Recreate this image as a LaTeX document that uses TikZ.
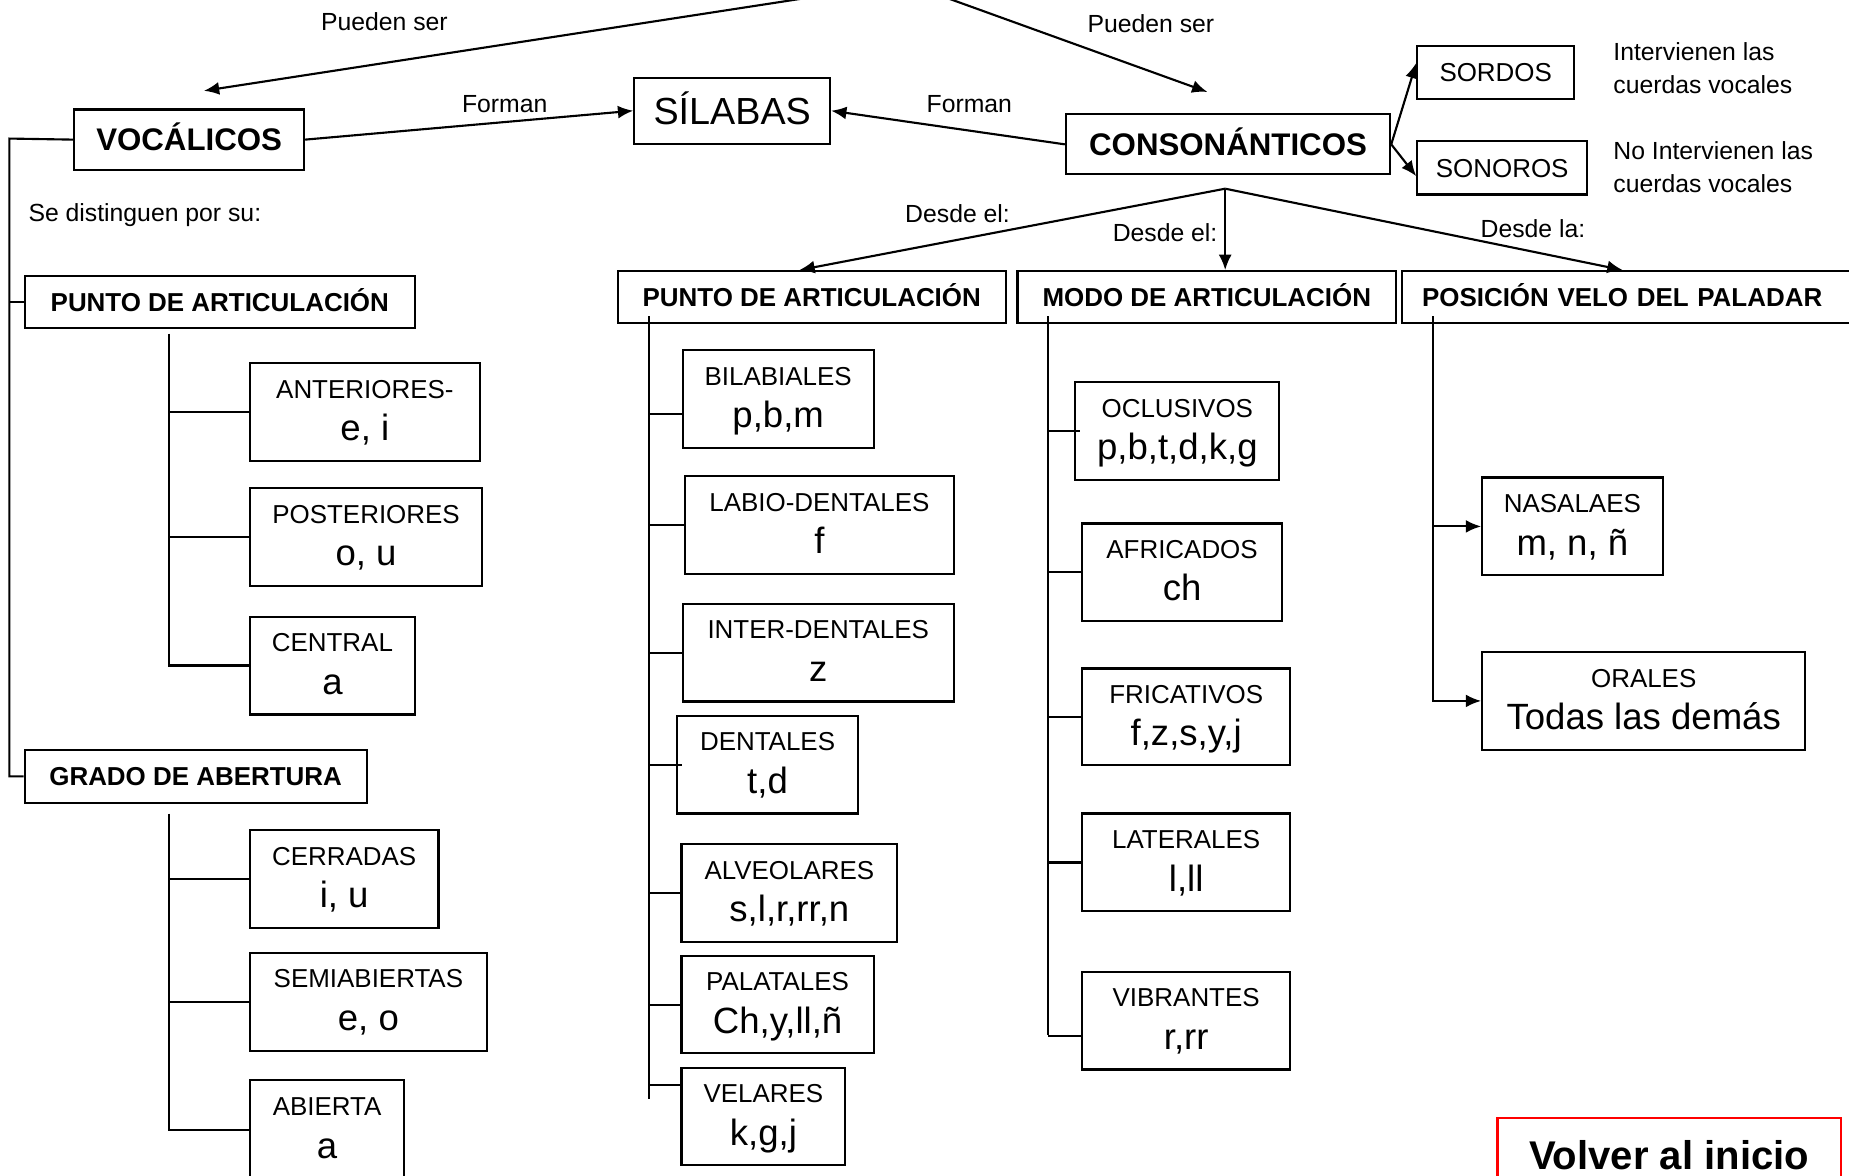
\documentclass[tikz,border=0pt]{standalone}
\usepackage{fontspec}
\setmainfont{Liberation Sans}
\usetikzlibrary{arrows.meta,calc}
\newcommand\twol[2]{{\fontsize{22}{26}\selectfont\rule{0pt}{19pt}#1}\\#2\rule[-6.5pt]{0pt}{6.5pt}}
\begin{document}
\begin{tikzpicture}[x=1pt,y=-1pt,
  hb/.style={draw, line width=1.8pt, inner sep=0pt, anchor=north west, align=center},
  hdr/.style={hb, minimum height=44pt, text height=15.8pt, text depth=0pt, font=\fontsize{22}{26}\selectfont\bfseries},
  vb/.style={hb, minimum height=83pt, font=\fontsize{31}{36}\selectfont},
  lbl/.style={inner sep=0pt, font=\fontsize{21}{28}\selectfont},
  ln/.style={line width=1.8pt},
  arr/.style={line width=1.8pt, -{Latex[length=13pt,width=11pt]}}]
\fill[white] (0,0) rectangle (1568,997);
\useasboundingbox (0,0) rectangle (1568,997);
\clip (0,0) rectangle (1568,997);

% main nodes
\node[hb, minimum width=195pt, minimum height=51pt, text height=19pt, text depth=0pt, font=\fontsize{26.5}{30}\selectfont\bfseries] (VOC) at (62,92) {VOCÁLICOS};
\node[hb, minimum width=166pt, minimum height=56pt, text height=23pt, text depth=0pt, font=\fontsize{32}{36}\selectfont] (SIL) at (537,65) {SÍLABAS};
\node[hb, minimum width=275pt, minimum height=51pt, text height=19pt, text depth=0pt, font=\fontsize{26.5}{30}\selectfont\bfseries] (CON) at (903,96) {CONSONÁNTICOS};
\node[hb, minimum width=133pt, minimum height=45pt, text height=15.8pt, text depth=0pt, font=\fontsize{22}{26}\selectfont] (SOR) at (1201,38) {SORDOS};
\node[hb, minimum width=144pt, minimum height=45pt, text height=15.8pt, text depth=0pt, font=\fontsize{22}{26}\selectfont] (SON) at (1201,119) {SONOROS};

% headers
\node[hdr, minimum width=331pt] (LPA) at (20,233) {PUNTO DE ARTICULACIÓN};
\node[hdr, minimum width=290pt, minimum height=45pt] (GRA) at (20,635) {GRADO DE ABERTURA};
\node[hdr, minimum width=329pt] (MPA) at (523,229) {PUNTO DE ARTICULACIÓN};
\node[hdr, minimum width=321pt] (MOD) at (862,229) {MODO DE ARTICULACIÓN};
\node[hdr, text width=400pt, align=left, inner xsep=17pt] (PVP) at (1188,229) {POSICIÓN VELO DEL PALADAR};

% left boxes
\node[vb, minimum width=195pt] (ANT) at (211,307) {\twol{ANTERIORES-}{e, i}};
\node[vb, minimum width=197pt] (POS) at (211,413) {\twol{POSTERIORES}{o, u}};
\node[vb, minimum width=140pt] (CEN) at (211,522) {\twol{CENTRAL}{a}};
\node[vb, minimum width=160pt] (CER) at (211,703) {\twol{CERRADAS}{i, u}};
\node[vb, minimum width=201pt] (SEM) at (211,807) {\twol{SEMIABIERTAS}{e, o}};
\node[vb, minimum width=131pt, minimum height=84pt] (ABI) at (211,915) {\twol{ABIERTA}{a}};

% middle boxes
\node[vb, minimum width=162pt] (BIL) at (578,296) {\twol{BILABIALES}{p,b,m}};
\node[vb, minimum width=228pt] (LAB) at (580,403) {\twol{LABIO-DENTALES}{f}};
\node[vb, minimum width=230pt] (INT) at (578,511) {\twol{INTER-DENTALES}{z}};
\node[vb, minimum width=154pt] (DEN) at (573,606) {\twol{DENTALES}{t,d}};
\node[vb, minimum width=183pt] (ALV) at (577,715) {\twol{ALVEOLARES}{s,l,r,rr,n}};
\node[vb, minimum width=163pt, minimum height=82pt] (PAL) at (577,810) {\twol{PALATALES}{Ch,y,ll,ñ}};
\node[vb, minimum width=139pt, minimum height=82pt] (VEL) at (577,905) {\twol{VELARES}{k,g,j}};

% modo boxes
\node[vb, minimum width=173pt] (OCL) at (911,323) {\twol{OCLUSIVOS}{p,b,t,d,k,g}};
\node[vb, minimum width=169pt] (AFR) at (917,443) {\twol{AFRICADOS}{ch}};
\node[vb, minimum width=176pt, minimum height=82pt] (FRI) at (917,566) {\twol{FRICATIVOS}{f,z,s,y,j}};
\node[vb, minimum width=176pt] (LAT) at (917,689) {\twol{LATERALES}{l,ll}};
\node[vb, minimum width=176pt] (VIB) at (917,823) {\twol{VIBRANTES}{r,rr}};

% velo boxes
\node[vb, minimum width=153pt] (NAS) at (1256,404) {\twol{NASALAES}{m, n, ñ}};
\node[vb, minimum width=274pt] (ORA) at (1256,552) {\twol{ORALES}{Todas las demás}};

% volver
\node[hb, draw=red, minimum width=291pt, minimum height=63pt, text height=24.5pt, text depth=0pt, font=\fontsize{34}{38}\selectfont\bfseries] (VOL) at (1269,947) {Volver al inicio};

% labels
\node[lbl] (pl) at (326,18) {Pueden ser};
\node[lbl] (pr) at (976,20) {Pueden ser};
\node[lbl] (fl) at (428,88) {Forman};
\node[lbl] (fr) at (822,88) {Forman};
\node[lbl, anchor=west] (sd) at (24,182) {Se distinguen por su:};
\node[lbl] (d1) at (812,181) {Desde el:};
\node[lbl] (d2) at (988,197) {Desde el:};
\node[lbl] (d3) at (1300,194) {Desde la:};
\node[lbl, anchor=west, align=left] (iv1) at (1368,58) {Intervienen las\\cuerdas vocales};
\node[lbl, anchor=west, align=left] (iv2) at (1368,142) {No Intervienen las\\cuerdas vocales};

% coordinates
\coordinate (rootL) at (705,-5);
\coordinate (rootR) at (794,-5);
\coordinate (br) at (1039,160);
\coordinate (ls) at (8,117.5);
\coordinate (la) at (143,283);
\coordinate (ga) at (143,690);
\coordinate (mt) at (550,268);
\coordinate (me) at (550,932);
\coordinate (dt) at (889,268);
\coordinate (de) at (889,878);
\coordinate (pt) at (1215,268);

% top connectors
\draw[arr] (rootL) -- ([xshift=12.5pt,yshift=15pt]VOC.north);
\draw[arr] (rootR) -- ([xshift=-17.5pt,yshift=18pt]CON.north);
\draw[arr] (VOC.east) -- (SIL.west);
\draw[arr] (CON.west) -- (SIL.east);
\draw[arr] (CON.east) -- ([yshift=8pt]SOR.west);
\draw[arr] (CON.east) -- ([yshift=-7pt]SON.west);
\draw[arr] (br) -- ([xshift=-10.5pt]MPA.north);
\draw[arr] (br) -- (br |- MOD.north);
\draw[arr] (br) -- ([xshift=188pt]PVP.north west);

% left tree
\draw[ln] (VOC.west) -- (ls) |- (GRA.west);
\draw[ln] (LPA.west -| ls) -- (LPA.west);
\draw[ln] (la) |- (CEN.west);
\draw[ln] (ANT.west -| la) -- (ANT.west);
\draw[ln] (POS.west -| la) -- (POS.west);
\draw[ln] (ga) |- (ABI.west);
\draw[ln] (CER.west -| ga) -- (CER.west);
\draw[ln] (SEM.west -| ga) -- (SEM.west);

% middle tree
\draw[ln] (mt) -- (me);
\draw[ln] ([yshift=-12.5pt]BIL.west) -- +(-28,0);
\draw[ln] (LAB.west -| mt) -- (LAB.west);
\draw[ln] (INT.west -| mt) -- (INT.west);
\draw[ln] (DEN.west -| mt) -- ([xshift=5pt]DEN.west);
\draw[ln] (ALV.west -| mt) -- (ALV.west);
\draw[ln] (PAL.west -| mt) -- (PAL.west);
\draw[ln] ([yshift=27pt]VEL.west) -- +(-27,0);

% modo tree
\draw[ln] (dt) -- (de);
\draw[ln] (OCL.west -| dt) -- ([xshift=5pt]OCL.west);
\draw[ln] (AFR.west -| dt) -- (AFR.west);
\draw[ln] (FRI.west -| dt) -- (FRI.west);
\draw[ln] (LAT.west -| dt) -- (LAT.west);
\draw[ln] ([yshift=-13.5pt]VIB.west) -- +(-28,0);

% velo tree
\draw[arr] (pt) |- (ORA.west);
\draw[arr] (NAS.west -| pt) -- (NAS.west);
\end{tikzpicture}
\end{document}
